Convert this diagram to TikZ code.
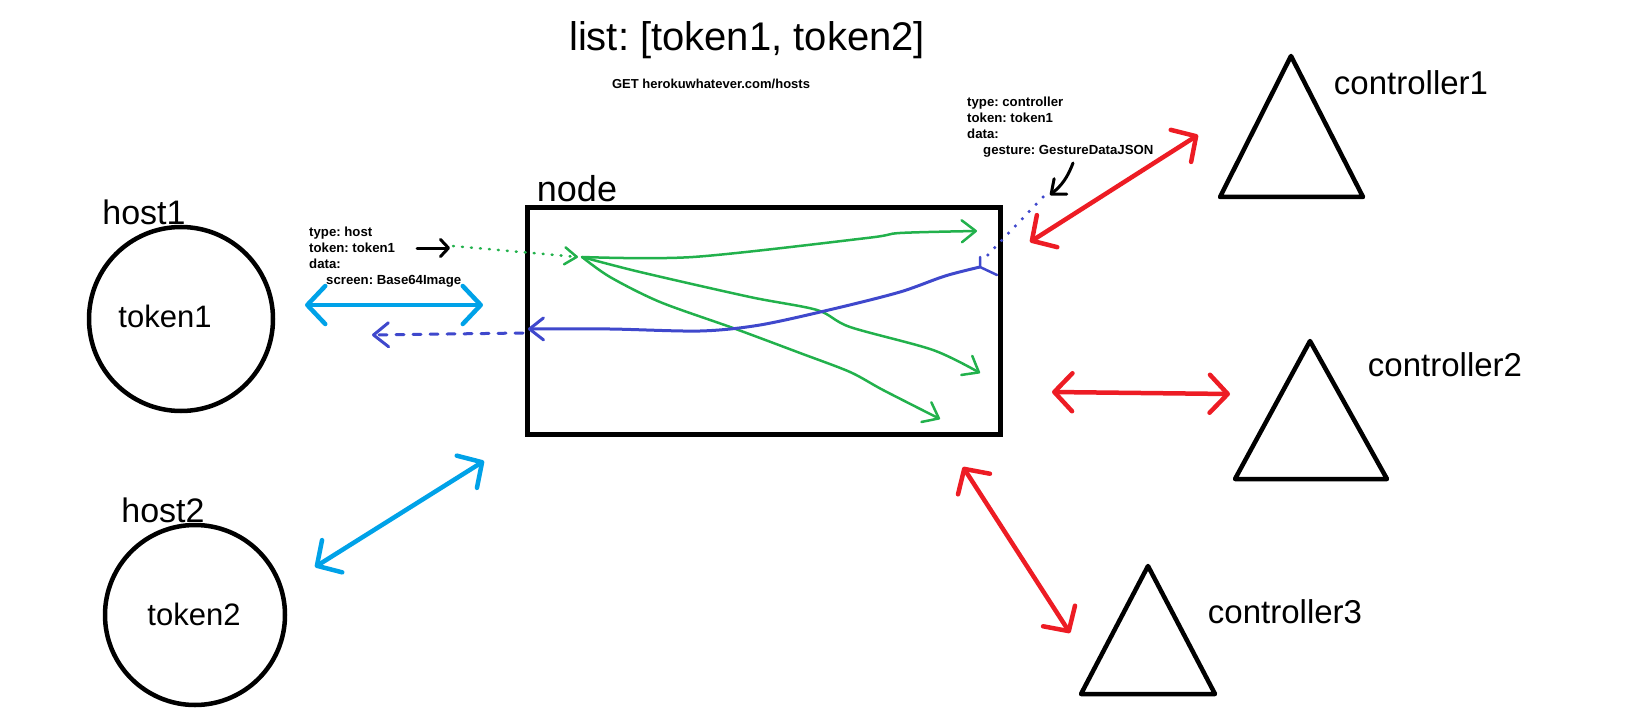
\documentclass[tikz,border=0pt]{standalone}
\usepackage{fontspec}
\setmainfont{Liberation Sans}
\frenchspacing
\usetikzlibrary{arrows.meta}
\definecolor{pred}{HTML}{ED1C24}
\definecolor{pblue}{HTML}{00A2E8}
\definecolor{pindigo}{HTML}{3F48CC}
\definecolor{pgreen}{HTML}{22B14C}

\begin{document}
\begin{tikzpicture}[x=1pt,y=-1pt,
    hand/.style={inner sep=0pt,font=\fontsize{34}{40}\selectfont},
    info/.style={inner sep=0pt,anchor=north west,align=left,font=\bfseries\fontsize{13.2}{15.8}\selectfont},
    thing/.style={draw,line width=4.5pt},
    link/.style={<->,>={Straight Barb[length=18pt,width=38pt,round]},line width=4.5pt,line cap=round},
    flow/.style={->,>={Straight Barb[length=14pt,width=22pt,round]},line width=3pt,line cap=round}]
\useasboundingbox (0,0) rectangle (1627,714);

\node[hand,font=\fontsize{40}{46}\selectfont] (list) at (747,40) {list: [token1, token2]};
\node[inner sep=0pt,font=\bfseries\fontsize{13}{15}\selectfont] (get) at (711,84) {GET herokuwhatever.com/hosts};

% hosts
\node[thing,circle,minimum size=184pt] (host1) at (181,319) {};
\node[thing,circle,minimum size=180pt] (host2) at (195,615) {};
\node[hand] (host1lbl) at (144,212) {host1};
\node[hand] (host2lbl) at (163,510) {host2};
\node[hand,font=\fontsize{31}{36}\selectfont] (tok1) at (165,316) {token1};
\node[hand,font=\fontsize{31}{36}\selectfont] (tok2) at (194,614) {token2};

% the node
\node[thing,rectangle,minimum width=473pt,minimum height=227pt] (srv) at (764,321) {};
\node[hand,font=\fontsize{36}{40}\selectfont] (srvlbl) at (577,189) {node};

% controllers
\draw[thing,line join=round] (1291,56) -- (1363,197) -- (1220,197) -- cycle;
\draw[thing,line join=round] (1310,341) -- (1387,479) -- (1235,479) -- cycle;
\draw[thing,line join=round] (1148,566) -- (1215,694) -- (1081,694) -- cycle;
\node[hand,font=\fontsize{33}{38}\selectfont] (ctl1) at (1411,83) {controller1};
\node[hand,font=\fontsize{33}{38}\selectfont] (ctl2) at (1445,365) {controller2};
\node[hand,font=\fontsize{33}{38}\selectfont] (ctl3) at (1285,612) {controller3};

% messages
\node[info] (hinfo) at (309,227) {type: host\\token: token1\\data:\\\hspace*{17pt}screen: Base64Image};
\node[info] (cinfo) at (967,97) {type: controller\\token: token1\\data:\\\hspace*{16pt}gesture: GestureDataJSON};

\coordinate (h1a) at (305,305);
\coordinate (h1b) at (483,305);
\coordinate (h2a) at (315,567);
\coordinate (h2b) at (484,461);
\coordinate (c1a) at (1030,242);
\coordinate (c1b) at (1198,135);
\coordinate (c2a) at (1052,392);
\coordinate (c2b) at (1230,394);
\coordinate (c3a) at (963,467);
\coordinate (c3b) at (1070,633);
\draw[link,pblue] (h1a) -- (h1b);
\draw[link,pblue] (h2a) -- (h2b);
\draw[link,pred] (c1a) -- (c1b);
\draw[link,pred] (c2a) -- (c2b);
\draw[link,pred] (c3a) -- (c3b);

% host message
\coordinate (hout) at (417,248);
\coordinate (gdot) at (453,246);
\coordinate (gin) at (582,257);
\draw[flow,>={Straight Barb[length=8pt,width=17pt,round]}] (hout) -- (450,248);
\draw[flow,pgreen,line width=2.5pt,dash pattern=on 1pt off 8pt,>={Straight Barb[length=12pt,width=17pt,round]}] (gdot) -- (578,257);
\draw[flow,pgreen,line width=2.5pt] plot[smooth] coordinates {(gin) (693,257) (867,238) (900,233) (977,231)};
\draw[flow,pgreen,line width=2.5pt] plot[smooth] coordinates {(gin) (640,272) (750,297) (817,310) (850,327) (933,350) (980,373)};
\draw[flow,pgreen,line width=2.5pt] plot[smooth] coordinates {(gin) (610,277) (660,302) (733,328) (800,353) (850,372) (883,390) (940,419)};

% controller message
\coordinate (cout) at (1073,163);
\coordinate (cdot) at (1043,197);
\coordinate (ctail) at (980,267);
\draw[flow,>={Straight Barb[length=12pt,width=20pt,round]}] (cout) to[bend left=15] (1050,195);
\draw[pindigo,line width=3.5pt,line cap=round,dash pattern=on 0pt off 10pt] (cdot) -- (983,260);
\draw[pindigo,line width=2.5pt,line cap=round] (980,257) -- (ctail) -- (997,275);
\draw[flow,pindigo] plot[smooth] coordinates {(ctail) (945,276) (900,292) (833,309) (760,325) (700,331) (610,329) (528,329)};
\draw[flow,pindigo,dash pattern=on 8pt off 9pt,>={Straight Barb[length=15pt,width=24pt,round]}] (523,333) -- (372,335);
\end{tikzpicture}
\end{document}
